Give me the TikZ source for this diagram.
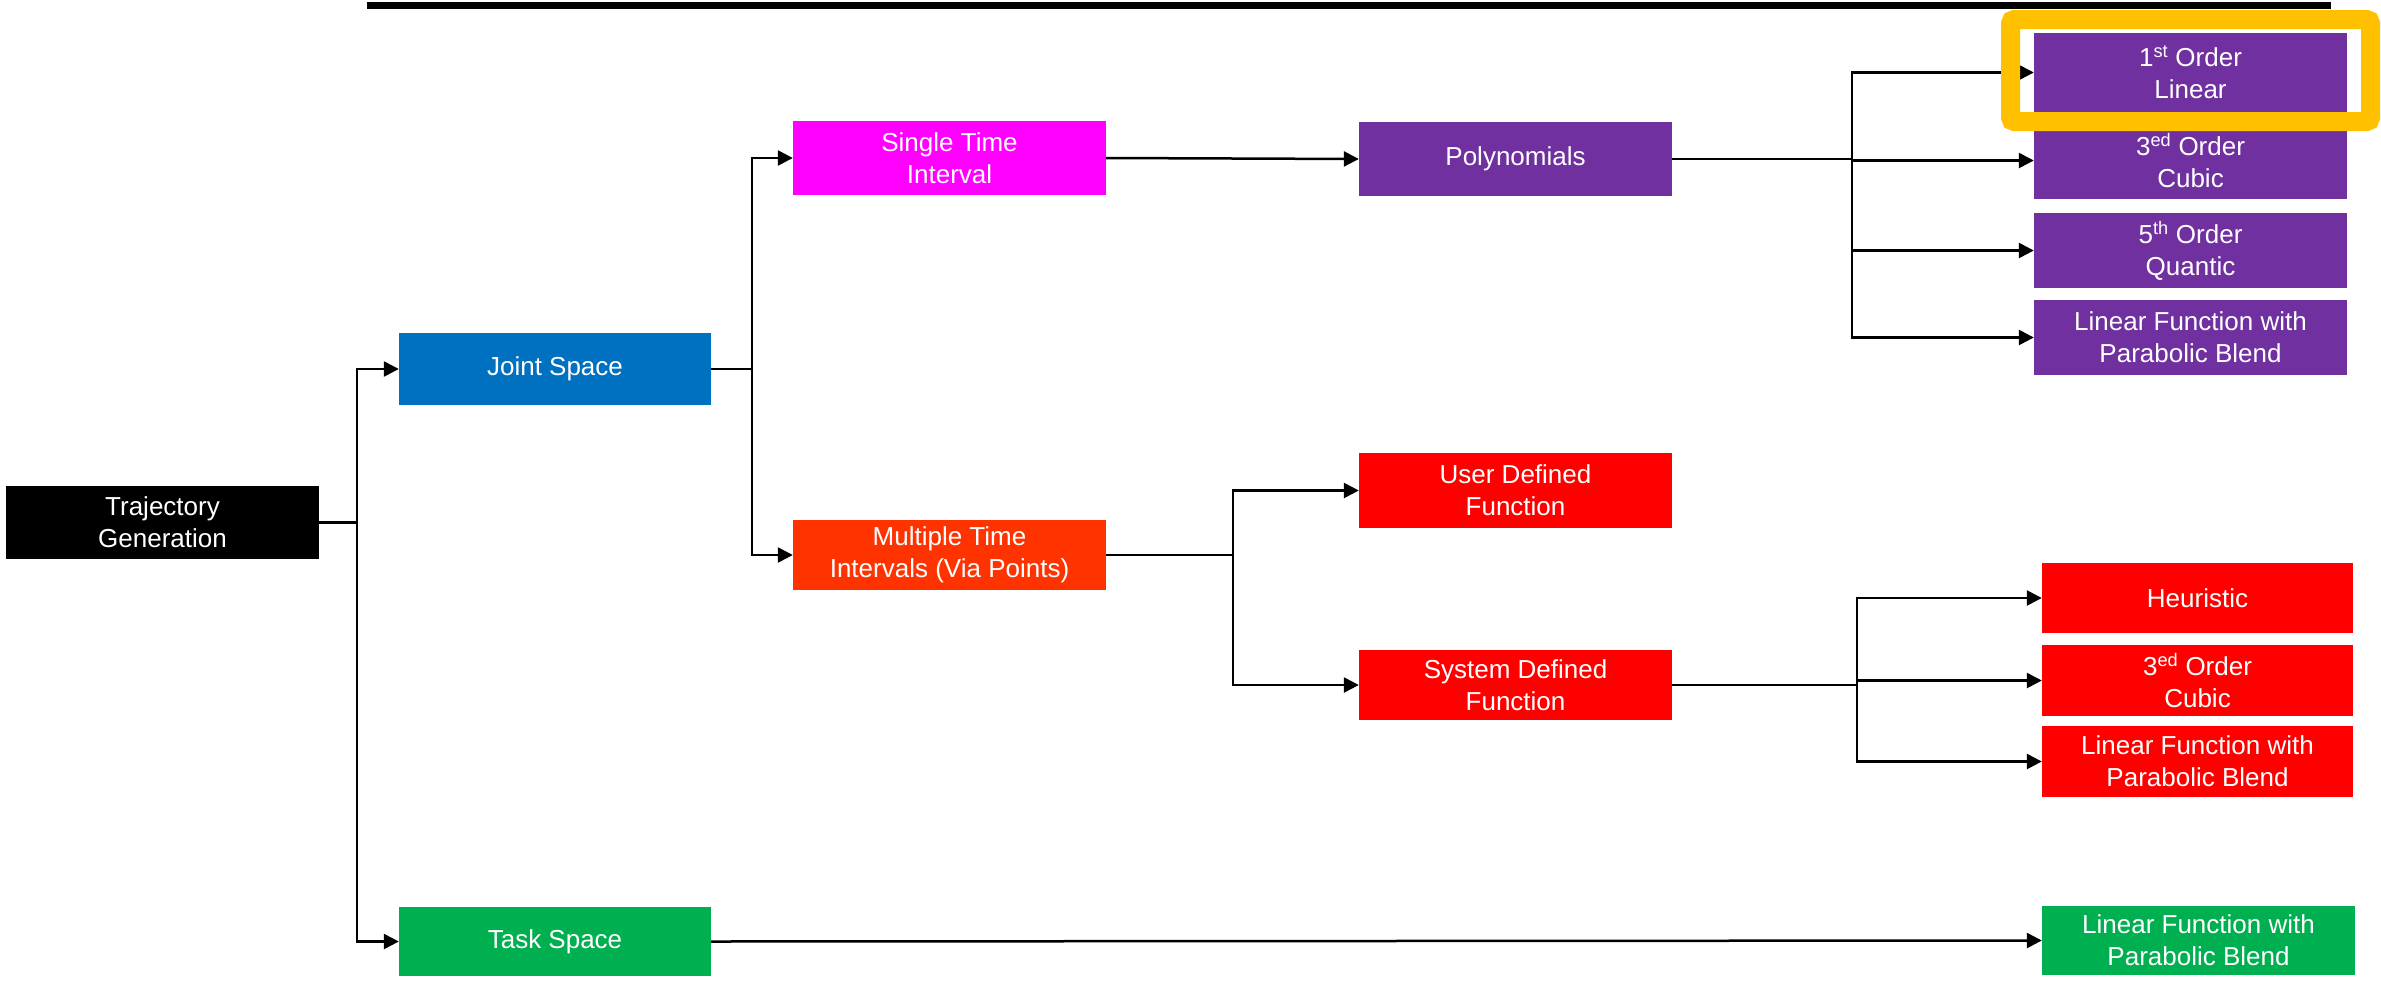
\documentclass[tikz,border=0pt]{standalone}
\usepackage{fontspec}
\setmainfont{Liberation Sans}
\usetikzlibrary{arrows.meta}

\definecolor{tgblack}{HTML}{000000}
\definecolor{jsblue}{HTML}{0070C0}
\definecolor{tsgreen}{HTML}{00B050}
\definecolor{stmagenta}{HTML}{FF00FF}
\definecolor{polypurple}{HTML}{7030A0}
\definecolor{mtorange}{HTML}{FF3300}
\definecolor{fnred}{HTML}{FF0000}
\definecolor{hlgold}{HTML}{FFC000}

\begin{document}
\begin{tikzpicture}[x=1pt,y=-1pt,
  box/.style={rectangle, inner sep=0pt, text=white, align=center,
    font=\fontsize{26}{32}\selectfont, minimum width=#1},
  box/.default=313pt,
  conn/.style={line width=2.5pt, line join=miter},
  arr/.style={conn, -{Triangle[length=15pt,width=15pt]}}
]
\useasboundingbox (0,0) rectangle (2381,980);

% heading rule
\coordinate (ruleL) at (367,5.5);
\coordinate (ruleR) at (2331,5.5);
\draw[line width=7pt] (ruleL) -- (ruleR);

% root and first level
\node[box, fill=tgblack, minimum height=73pt] (tg) at (162.5,522.5) {Trajectory\\Generation};
\node[box=312pt, fill=jsblue, minimum height=72pt] (js) at (555,369) {Joint Space};
\node[box=312pt, fill=tsgreen, minimum height=69pt] (ts) at (555,941.5) {Task Space};

% joint space branches
\node[box, fill=stmagenta, minimum height=74pt] (sti) at (949.5,158) {Single Time\\Interval};
\node[box, fill=mtorange, minimum height=70pt] (mti) at (949.5,555) {Multiple Time\\Intervals (Via Points)};

\node[box, fill=polypurple, minimum height=74pt] (poly) at (1515.5,159) {Polynomials};
\node[box, fill=fnred, minimum height=75pt] (udf) at (1515.5,490.5) {User Defined\\Function};
\node[box, fill=fnred, minimum height=70pt] (sdf) at (1515.5,685) {System Defined\\Function};

% polynomial variants
\node[box, fill=polypurple, minimum height=79pt] (p1) at (2190.5,72.5) {1\textsuperscript{st} Order\\Linear};
\node[box, fill=polypurple, minimum height=77pt] (p3) at (2190.5,160.5) {3\textsuperscript{ed} Order\\Cubic};
\node[box, fill=polypurple, minimum height=75pt] (p5) at (2190.5,250.5) {5\textsuperscript{th} Order\\Quantic};
\node[box, fill=polypurple, minimum height=75pt] (plf) at (2190.5,337.5) {Linear Function with\\Parabolic Blend};

% system defined variants
\node[box=311pt, fill=fnred, minimum height=70pt] (heur) at (2197.5,598) {Heuristic};
\node[box=311pt, fill=fnred, minimum height=71pt] (r3) at (2197.5,680.5) {3\textsuperscript{ed} Order\\Cubic};
\node[box=311pt, fill=fnred, minimum height=71pt] (rlf) at (2197.5,761.5) {Linear Function with\\Parabolic Blend};

% task space variant
\node[box=313pt, fill=tsgreen, minimum height=69pt] (glf) at (2198.5,940.5) {Linear Function with\\Parabolic Blend};

% branch junctions
\coordinate (jtg) at (357,522.5);
\coordinate (jjs) at (752,369);
\coordinate (jpoly) at (1852,159);
\coordinate (jmti) at (1233,555);
\coordinate (jsdf) at (1857,685);

% connectors
\draw[conn] (tg.east) -- (jtg);
\draw[arr] (jtg) |- (js.west);
\draw[arr] (jtg) |- (ts.west);

\draw[conn] (js.east) -- (jjs);
\draw[arr] (jjs) |- (sti.west);
\draw[arr] (jjs) |- (mti.west);

\draw[arr] (sti.east) -- (poly.west);

\draw[conn] (poly.east) -- (jpoly);
\draw[arr] (jpoly) |- (p1.west);
\draw[arr] (jpoly) |- (p3.west);
\draw[arr] (jpoly) |- (p5.west);
\draw[arr] (jpoly) |- (plf.west);

\draw[conn] (mti.east) -- (jmti);
\draw[arr] (jmti) |- (udf.west);
\draw[arr] (jmti) |- (sdf.west);

\draw[conn] (sdf.east) -- (jsdf);
\draw[arr] (jsdf) |- (heur.west);
\draw[arr] (jsdf) |- (r3.west);
\draw[arr] (jsdf) |- (rlf.west);

\draw[arr] (ts.east) -- (glf.west);

% highlight frame around the first-order box
\draw[hlgold, line width=19pt, rounded corners=4pt] (2010.5,19.5) rectangle (2370.5,121.5);
\end{tikzpicture}
\end{document}
